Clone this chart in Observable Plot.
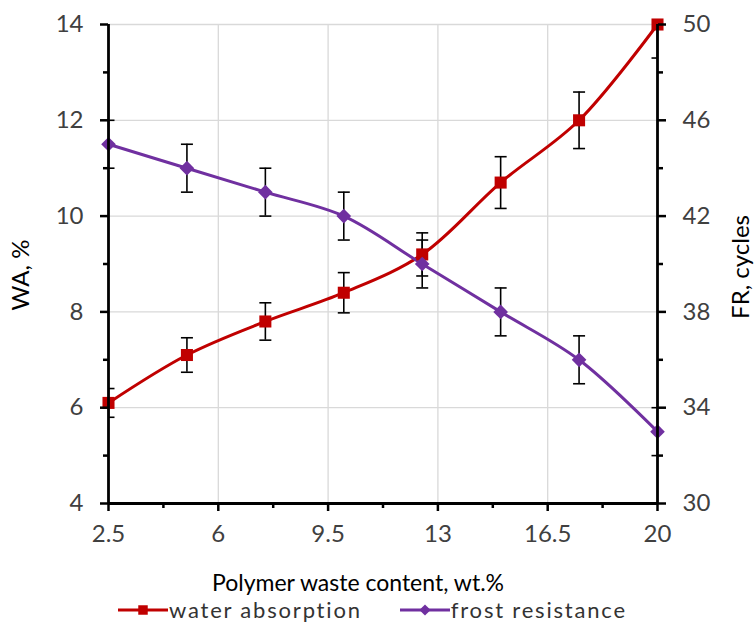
<!DOCTYPE html>
<html><head><meta charset="utf-8">
<script src="https://cdn.jsdelivr.net/npm/d3@7"></script>
<script src="https://cdn.jsdelivr.net/npm/@observablehq/plot@0.6"></script>
<style>
body{margin:0;background:#fff;}
#wrap{position:relative;width:754px;height:630px;font-family:Lato,sans-serif;}
#legend{position:absolute;top:596px;left:118px;display:flex;align-items:center;font-size:22px;color:#333;letter-spacing:1.8px;white-space:nowrap;}
#legend .item{display:flex;align-items:center;}
#legend svg{display:block;margin-right:1px;}
</style></head><body><div id="wrap"></div>
<script>
const content = [2.5, 5, 7.5, 10, 12.5, 15, 17.5, 20];
const waterAbsorption = [6.1, 7.1, 7.8, 8.4, 9.2, 10.7, 12.0, 14.0];
const waterAbsorptionErr = [0.3, 0.36, 0.39, 0.42, 0.45, 0.54, 0.59, 0.7];
const frostResistance = [45, 44, 43, 42, 40, 38, 36, 33];
const frostResistanceErr = [1, 1, 1, 1, 1, 1, 1, 1];
const xTicks = [2.5, 6, 9.5, 13, 16.5, 20];
const xMinorTicks = [4.25, 7.75, 11.25, 14.75, 18.25];
const waTicks = [4, 6, 8, 10, 12, 14];
const waMinorTicks = [5, 7, 9, 11, 13];
const frTicks = [30, 34, 38, 42, 46, 50];
const frMinorTicks = [32, 36, 40, 44, 48];
const seriesNames = ["water absorption", "frost resistance"];
const colors = ["#C00000", "#7030A0"];

// secondary axis: FR [30,50] shares the WA scale [4,14]
const frToWa = v => 4 + (v - 30) / 2;
const waToFr = v => 30 + (v - 4) * 2;

const data = content.map((x, i) => ({
  x, wa: waterAbsorption[i], waE: waterAbsorptionErr[i],
  fr: frostResistance[i], frE: frostResistanceErr[i]
}));

const capSymbol = {draw(ctx, size) { const r = Math.sqrt(size / Math.PI); ctx.moveTo(-r, 0); ctx.lineTo(r, 0); }};

const errStyle = {stroke: "#000", strokeWidth: 1.6, clip: true};
const capStyle = {symbol: capSymbol, r: 6, fill: "none", stroke: "#000", strokeWidth: 1.6, clip: true};

const plot = Plot.plot({
  width: 754, height: 630,
  marginLeft: 108, marginRight: 97, marginTop: 24, marginBottom: 127,
  style: {fontFamily: "Lato, sans-serif", fontSize: "24px", background: "#fff", overflow: "visible"},
  x: {domain: [2.5, 20]},
  y: {domain: [4, 14]},
  marks: [
    Plot.gridX(xTicks.slice(1, -1), {stroke: "#d9d9d9", strokeOpacity: 1, strokeWidth: 1.3}),
    Plot.gridY(waTicks.slice(1), {stroke: "#d9d9d9", strokeOpacity: 1, strokeWidth: 1.3}),
    // error bars
    Plot.ruleX(data, {x: "x", y1: d => d.wa - d.waE, y2: d => d.wa + d.waE, ...errStyle}),
    Plot.dot(data, {x: "x", y: d => d.wa - d.waE, ...capStyle}),
    Plot.dot(data, {x: "x", y: d => d.wa + d.waE, ...capStyle}),
    Plot.ruleX(data, {x: "x", y1: d => frToWa(d.fr - d.frE), y2: d => frToWa(d.fr + d.frE), ...errStyle}),
    Plot.dot(data, {x: "x", y: d => frToWa(d.fr - d.frE), ...capStyle}),
    Plot.dot(data, {x: "x", y: d => frToWa(d.fr + d.frE), ...capStyle}),
    // lines
    Plot.line(data, {x: "x", y: "wa", stroke: colors[0], strokeWidth: 3, curve: "catmull-rom"}),
    Plot.line(data, {x: "x", y: d => frToWa(d.fr), stroke: colors[1], strokeWidth: 3, curve: "catmull-rom"}),
    Plot.dot(data, {x: "x", y: "wa", symbol: "square", r: 6.8, fill: colors[0], stroke: "none"}),
    Plot.dot(data, {x: "x", y: d => frToWa(d.fr), symbol: "diamond2", r: 6.6, fill: colors[1], stroke: "none"}),
    // axes
    Plot.axisX(xTicks, {tickSize: 8, tickPadding: 13, tickFormat: d => String(d), label: null, stroke: "#000", strokeWidth: 2.5, fill: "#404040", fontSize: 24}),
    Plot.axisX(xMinorTicks, {tickSize: 5, tickFormat: () => "", label: null, stroke: "#000", strokeWidth: 2.5}),
    Plot.axisY(waTicks, {anchor: "left", tickSize: 8, tickPadding: 17, tickFormat: d => String(d), label: null, stroke: "#000", strokeWidth: 2.5, fill: "#404040", fontSize: 24}),
    Plot.axisY(waMinorTicks, {anchor: "left", tickSize: 5, tickFormat: () => "", label: null, stroke: "#000", strokeWidth: 2.5}),
    Plot.axisY(frTicks.map(frToWa), {anchor: "right", tickSize: 8, tickPadding: 17, tickFormat: v => String(waToFr(v)), label: null, stroke: "#000", strokeWidth: 2.5, fill: "#404040", fontSize: 24}),
    Plot.axisY(frMinorTicks.map(frToWa), {anchor: "right", tickSize: 5, tickFormat: () => "", label: null, stroke: "#000", strokeWidth: 2.5}),
    Plot.ruleX([2.5, 20], {stroke: "#000", strokeWidth: 2.8}),
    Plot.ruleY([4], {stroke: "#000", strokeWidth: 2.8}),
    // titles
    Plot.text(["Polymer waste content, wt.%"], {frameAnchor: "bottom", dx: -25, dy: 87, lineAnchor: "bottom", textAnchor: "middle", fontSize: 23, fill: "#000"}),
    Plot.text(["WA, %"], {frameAnchor: "left", rotate: -90, dx: -87, dy: 11, lineAnchor: "middle", textAnchor: "middle", fontSize: 24, fill: "#000"}),
    Plot.text(["FR, cycles"], {frameAnchor: "right", rotate: -90, dx: 84, dy: 3, lineAnchor: "middle", textAnchor: "middle", fontSize: 24, fill: "#000"})
  ]
});

const wrap = document.getElementById("wrap");
wrap.appendChild(plot);

// legend
const legend = document.createElement("div");
legend.id = "legend";
seriesNames.forEach((name, i) => {
  const item = document.createElement("div");
  item.className = "item";
  if (i > 0) item.style.marginLeft = "38px";
  const s = d3.create("svg").attr("width", 50).attr("height", 20);
  s.append("line").attr("x1", 0).attr("x2", 50).attr("y1", 10).attr("y2", 10).attr("stroke", colors[i]).attr("stroke-width", 3);
  s.append("path").attr("transform", "translate(25,10)")
    .attr("d", d3.symbol(i === 0 ? d3.symbolSquare : d3.symbolDiamond2, i === 0 ? 90 : 80)())
    .attr("fill", colors[i]);
  item.appendChild(s.node());
  const t = document.createElement("span");
  t.textContent = name;
  item.appendChild(t);
  legend.appendChild(item);
});
wrap.appendChild(legend);
</script>
</body></html>
